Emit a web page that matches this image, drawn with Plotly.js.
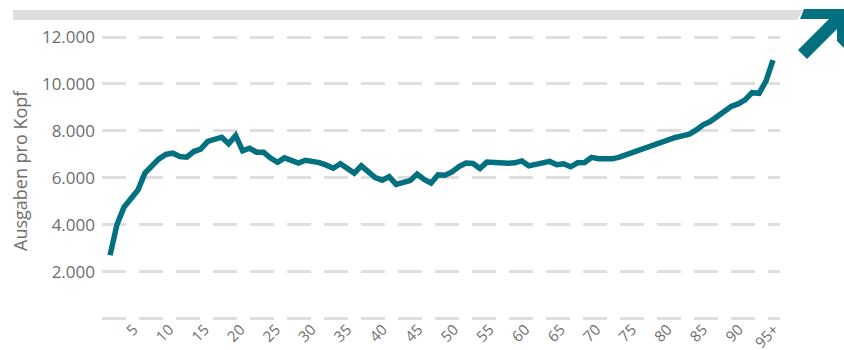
<!DOCTYPE html>
<html>
<head>
<meta charset="utf-8">
<script src="https://cdn.plot.ly/plotly-3.0.1.min.js"></script>
<style>
  html, body { margin: 0; padding: 0; background: #fff; }
  #chart { width: 844px; height: 350px; }
</style>
</head>
<body>
<div id="chart"></div>
<script>
// ---- data ----
const ages = ["0","1","2","3","4","5","6","7","8","9",
  "10","11","12","13","14","15","16","17","18","19",
  "20","21","22","23","24","25","26","27","28","29",
  "30","31","32","33","34","35","36","37","38","39",
  "40","41","42","43","44","45","46","47","48","49",
  "50","51","52","53","54","55","56","57","58","59",
  "60","61","62","63","64","65","66","67","68","69",
  "70","71","72","73","74","75","76","77","78","79",
  "80","81","82","83","84","85","86","87","88","89",
  "90","91","92","93","94","95+"];

const ausgabenProKopf = [
  2700, 4010, 4750, 5160, 5480, 6200, 6520, 6810, 7000, 7050,
  6910, 6880, 7120, 7220, 7550, 7670, 7730, 7450, 7800, 7150,
  7260, 7090, 7090, 6840, 6660, 6850, 6770, 6630, 6750, 6700,
  6650, 6540, 6410, 6600, 6390, 6200, 6510, 6240, 6010, 5900,
  6050, 5720, 5780, 5880, 6160, 5930, 5780, 6130, 6110, 6250,
  6480, 6630, 6610, 6400, 6670, 6650, 6590, 6620, 6640, 6720,
  6510, 6570, 6680, 6700, 6560, 6600, 6470, 6640, 6650, 6870,
  6810, 6800, 6810, 6880, 6990, 7110, 7220, 7320, 7450, 7560,
  7650, 7720, 7790, 7860, 8040, 8260, 8400, 8610, 8810, 9040,
  9150, 9320, 9630, 9600, 10130, 11020];

const xTickAges = [5, 10, 15, 20, 25, 30, 35, 40, 45, 50, 55, 60, 65, 70, 75, 80, 85, 90, 95];
const xTickText = ["5","10","15","20","25","30","35","40","45","50",
  "55","60","65","70","75","80","85","90","95+"];
const yTickVals = [0, 2000, 4000, 6000, 8000, 10000, 12000];
const yTickText = ["", "2.000", "4.000", "6.000", "8.000", "10.000", "12.000"];
const yAxisTitle = "Ausgaben pro Kopf";

// ---- layout helpers (pixel -> paper) ----
const W = 844, H = 350;
const M = {l: 102, r: 64, t: 30, b: 30};
const PW = W - M.l - M.r, PH = H - M.t - M.b;
function px(x) { return (x - M.l) / PW; }
function py(y) { return 1 - (y - M.t) / PH; }
function poly(pts) {
  return pts.map((p, i) => (i ? "L" : "M") + px(p[0]).toFixed(5) + "," + py(p[1]).toFixed(5)).join(" ") + " Z";
}

const teal = "#02707f";
const grey = "#6e6e6e";
const gridGrey = "#dedede";

const trace = {
  type: "scatter",
  mode: "lines",
  x: ages,
  y: ausgabenProKopf,
  line: {color: teal, width: 5.5, shape: "linear"},
  hoverinfo: "x+y"
};

const layout = {
  width: W, height: H,
  margin: M,
  paper_bgcolor: "#fff",
  plot_bgcolor: "#fff",
  showlegend: false,
  font: {family: "Open Sans, sans-serif", color: grey, size: 15},
  xaxis: {
    type: "category",
    range: [-1.15, 96],
    showticklabels: false,
    showgrid: false,
    zeroline: false,
    showline: false,
    ticks: "",
    automargin: false
  },
  // label axis for the age ticks
  xaxis2: {
    type: "linear",
    overlaying: "x",
    anchor: "y",
    side: "bottom",
    range: [0.56, 95.8],
    tickmode: "array",
    tickvals: xTickAges,
    ticktext: xTickText,
    tickangle: -45,
    showgrid: false,
    zeroline: false,
    showline: false,
    ticks: "",
    ticklabelstandoff: -3,
    tickfont: {size: 15, color: grey},
    automargin: false
  },
  yaxis: {
    range: [-60, 12300],
    tickmode: "array",
    tickvals: yTickVals,
    ticktext: yTickText,
    showgrid: true,
    gridcolor: gridGrey,
    gridwidth: 3,
    griddash: "24px,13px",
    zeroline: false,
    showline: false,
    ticks: "",
    ticklabelstandoff: 6,
    tickfont: {size: 17, color: grey},
    automargin: false
  },
  annotations: [
    {text: yAxisTitle, xref: "paper", yref: "paper",
     x: px(20), y: py(171), xanchor: "center", yanchor: "middle",
     textangle: -90, showarrow: false,
     font: {size: 18, color: grey}}
  ],
  shapes: [
    // grey header bar
    {type: "path", xref: "paper", yref: "paper", layer: "above",
     path: poly([[13, 10], [803, 10], [797, 20], [13, 20]]),
     fillcolor: gridGrey, line: {width: 0}},
    // arrow head
    {type: "path", xref: "paper", yref: "paper", layer: "above",
     path: poly([[804, 9], [848, 9], [848, 52], [837, 41], [837, 19], [800, 19]]),
     fillcolor: teal, line: {width: 0}},
    // arrow shaft
    {type: "path", xref: "paper", yref: "paper", layer: "above",
     path: poly([[798, 50], [807, 59], [843, 23], [834, 14]]),
     fillcolor: teal, line: {width: 0}}
  ]
};

// invisible carrier trace so the label axis is drawn
const labelCarrier = {
  type: "scatter", mode: "markers", x: [xTickAges[0]], y: [yTickVals[0]],
  xaxis: "x2", yaxis: "y", marker: {opacity: 0}, hoverinfo: "skip"
};

Plotly.newPlot("chart", [trace, labelCarrier], layout, {displayModeBar: false, staticPlot: true});
</script>
</body>
</html>
